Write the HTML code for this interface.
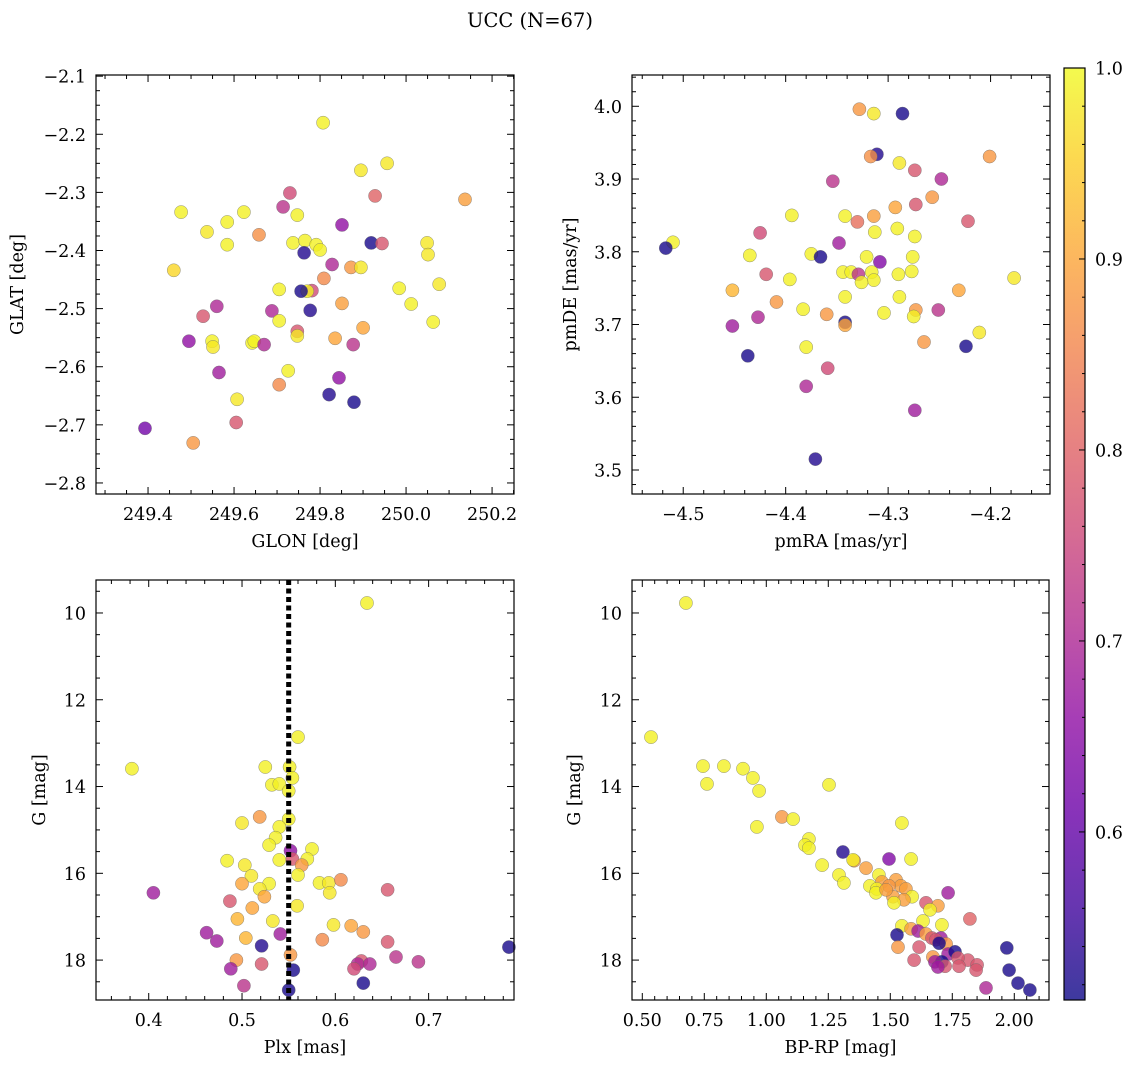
<!DOCTYPE html>
<html><head><meta charset="utf-8"><title>UCC (N=67)</title>
<style>
html,body{margin:0;padding:0;background:#fff;}
svg{display:block;font-family:"DejaVu Serif","Liberation Serif",serif;}
</style></head>
<body>
<svg id="fig" width="1136" height="1068" viewBox="0 0 1136 1068" xmlns="http://www.w3.org/2000/svg">
<defs>
<linearGradient id="plasma" x1="0" y1="1" x2="0" y2="0">
<stop offset="0" stop-color="#0d0887"/><stop offset="0.1" stop-color="#41049d"/><stop offset="0.2" stop-color="#6a00a8"/><stop offset="0.3" stop-color="#8f0da4"/><stop offset="0.4" stop-color="#b12a90"/><stop offset="0.5" stop-color="#cc4778"/><stop offset="0.6" stop-color="#e16462"/><stop offset="0.7" stop-color="#f2844b"/><stop offset="0.8" stop-color="#fca636"/><stop offset="0.9" stop-color="#fcce25"/><stop offset="1" stop-color="#f0f921"/>
</linearGradient>
</defs>
<text x="530" y="27" font-size="19.5" text-anchor="middle">UCC (N=67)</text>
</svg>
<script>
// ---- Panel 1: GLON vs GLAT ----
const glon=[249.807,249.956,249.895,250.137,249.928,249.730,249.714,249.477,249.623,249.584,249.747,249.537,249.658,249.851,249.919,249.944,250.049,250.051,249.584,249.737,249.765,249.791,249.800,249.763,249.828,249.460,249.809,249.872,249.895,249.781,249.770,249.756,249.705,249.984,250.077,250.012,249.851,249.777,249.560,249.528,249.688,249.705,250.063,249.747,249.747,249.900,249.495,249.549,249.551,249.642,249.647,249.670,249.835,249.877,249.565,249.726,249.705,249.844,249.821,249.879,249.607,249.605,249.393,249.505];
const glat=[-2.180,-2.250,-2.262,-2.312,-2.306,-2.301,-2.325,-2.334,-2.334,-2.351,-2.339,-2.368,-2.373,-2.356,-2.387,-2.388,-2.387,-2.407,-2.390,-2.387,-2.383,-2.390,-2.399,-2.404,-2.424,-2.434,-2.448,-2.429,-2.429,-2.469,-2.470,-2.470,-2.467,-2.465,-2.458,-2.492,-2.491,-2.503,-2.496,-2.513,-2.504,-2.521,-2.523,-2.539,-2.547,-2.533,-2.556,-2.556,-2.566,-2.559,-2.556,-2.562,-2.551,-2.562,-2.610,-2.607,-2.631,-2.619,-2.648,-2.661,-2.656,-2.696,-2.706,-2.731];
const prob1=[0.99,0.98,0.98,0.89,0.80,0.76,0.72,0.99,0.99,0.99,0.99,0.98,0.87,0.66,0.52,0.78,0.98,0.98,0.99,0.99,0.99,0.99,0.99,0.53,0.70,0.96,0.86,0.88,0.98,0.76,0.99,0.52,0.99,0.99,0.98,0.99,0.89,0.53,0.70,0.78,0.70,0.99,0.99,0.78,0.98,0.90,0.66,0.99,0.98,0.99,0.99,0.70,0.90,0.72,0.68,0.99,0.86,0.66,0.53,0.52,0.98,0.78,0.62,0.88];
// ---- Panel 2: pmRA vs pmDE ----
const pmra=[-4.328,-4.314,-4.286,-4.311,-4.317,-4.289,-4.274,-4.248,-4.354,-4.201,-4.257,-4.273,-4.293,-4.342,-4.394,-4.314,-4.330,-4.222,-4.291,-4.313,-4.425,-4.274,-4.348,-4.510,-4.517,-4.435,-4.375,-4.366,-4.276,-4.321,-4.308,-4.419,-4.344,-4.336,-4.329,-4.316,-4.290,-4.277,-4.314,-4.177,-4.396,-4.326,-4.452,-4.231,-4.342,-4.289,-4.409,-4.251,-4.383,-4.273,-4.427,-4.304,-4.360,-4.275,-4.342,-4.342,-4.211,-4.452,-4.265,-4.380,-4.437,-4.224,-4.359,-4.380,-4.274,-4.371];
const pmde=[3.996,3.990,3.990,3.934,3.931,3.922,3.912,3.900,3.897,3.931,3.875,3.865,3.861,3.849,3.850,3.849,3.841,3.842,3.832,3.827,3.826,3.821,3.812,3.813,3.805,3.795,3.797,3.793,3.793,3.793,3.786,3.769,3.772,3.772,3.769,3.772,3.769,3.773,3.761,3.764,3.762,3.758,3.747,3.747,3.738,3.738,3.731,3.720,3.721,3.720,3.710,3.716,3.714,3.711,3.703,3.699,3.689,3.698,3.676,3.669,3.657,3.670,3.640,3.615,3.582,3.515];
const prob2=[0.88,0.98,0.52,0.53,0.87,0.98,0.78,0.70,0.72,0.88,0.88,0.78,0.90,0.99,0.99,0.89,0.82,0.78,0.99,0.99,0.76,0.99,0.68,0.99,0.52,0.99,0.99,0.52,0.99,0.99,0.64,0.78,0.99,0.99,0.72,0.99,0.99,0.99,0.99,0.98,0.99,0.99,0.92,0.90,0.99,0.99,0.88,0.72,0.99,0.88,0.70,0.99,0.88,0.99,0.52,0.90,0.98,0.68,0.88,0.99,0.52,0.52,0.76,0.70,0.68,0.53];
// ---- Panel 3: Plx vs G ----
const plx=[0.634,0.560,0.382,0.525,0.551,0.554,0.532,0.540,0.550,0.550,0.519,0.500,0.540,0.536,0.529,0.575,0.552,0.554,0.570,0.540,0.484,0.503,0.564,0.560,0.510,0.583,0.593,0.606,0.500,0.529,0.519,0.405,0.656,0.594,0.524,0.487,0.559,0.511,0.495,0.533,0.598,0.617,0.630,0.462,0.541,0.504,0.473,0.586,0.656,0.521,0.786,0.665,0.494,0.552,0.689,0.628,0.624,0.637,0.521,0.620,0.488,0.555,0.630,0.502,0.550];
const gmag3=[9.77,12.86,13.59,13.55,13.55,13.80,13.96,13.94,14.10,14.75,14.70,14.84,14.93,15.18,15.35,15.44,15.48,15.67,15.67,15.69,15.71,15.81,15.81,16.04,16.06,16.22,16.22,16.15,16.24,16.24,16.36,16.45,16.38,16.45,16.54,16.64,16.75,16.80,17.05,17.10,17.19,17.21,17.35,17.37,17.40,17.49,17.56,17.53,17.58,17.67,17.70,17.93,18.00,17.88,18.04,18.02,18.09,18.09,18.09,18.20,18.20,18.23,18.53,18.59,18.69];
const prob3=[0.99,0.99,0.99,0.99,0.99,0.99,0.99,0.99,0.99,0.99,0.88,0.98,0.99,0.99,0.99,0.99,0.66,0.78,0.99,0.99,0.99,0.98,0.88,0.99,0.98,0.99,0.98,0.86,0.90,0.99,0.98,0.68,0.78,0.98,0.90,0.78,0.98,0.90,0.92,0.98,0.98,0.90,0.88,0.68,0.68,0.92,0.68,0.86,0.78,0.53,0.52,0.72,0.88,0.88,0.72,0.78,0.70,0.70,0.78,0.76,0.68,0.52,0.52,0.72,0.52];
const cut3=[0.55];
// ---- Panel 4: BP-RP vs G ----
const bprp=[0.676,0.535,0.745,0.829,0.906,0.946,0.761,0.971,1.253,1.063,1.108,0.962,1.547,1.172,1.156,1.172,1.309,1.354,1.350,1.225,1.495,1.584,1.402,1.454,1.293,1.523,1.466,1.543,1.495,1.563,1.313,1.418,1.446,1.442,1.511,1.483,1.733,1.588,1.555,1.515,1.644,1.692,1.660,1.821,1.632,1.708,1.547,1.584,1.527,1.612,1.644,1.668,1.704,1.684,1.725,1.531,1.616,1.697,1.733,1.761,1.672,1.708,1.813,1.596,1.680,1.773,1.777,1.721,1.850,1.692,1.970,1.979,1.846,2.015,1.886,2.063];
const gmag4=[9.77,12.86,13.53,13.53,13.59,13.80,13.94,14.10,13.96,14.70,14.75,14.93,14.84,15.21,15.35,15.42,15.51,15.71,15.69,15.81,15.67,15.67,15.88,16.04,16.04,16.15,16.20,16.29,16.29,16.36,16.22,16.29,16.36,16.45,16.54,16.38,16.45,16.54,16.61,16.68,16.68,16.75,16.84,17.05,17.10,17.19,17.21,17.28,17.42,17.33,17.40,17.49,17.49,17.53,17.63,17.70,17.70,17.61,17.86,17.81,17.93,18.04,18.00,18.00,18.04,17.95,18.14,18.14,18.11,18.16,17.72,18.23,18.23,18.53,18.64,18.69];
const prob4=[0.99,0.99,0.99,0.99,0.99,0.99,0.99,0.99,0.99,0.88,0.99,0.99,0.99,0.99,0.99,0.99,0.53,0.88,0.99,0.99,0.64,0.99,0.89,0.99,0.99,0.89,0.89,0.89,0.88,0.89,0.99,0.99,0.99,0.99,0.89,0.89,0.68,0.99,0.89,0.99,0.78,0.89,0.99,0.80,0.99,0.99,0.99,0.89,0.52,0.68,0.89,0.78,0.68,0.78,0.88,0.88,0.78,0.52,0.68,0.52,0.88,0.52,0.78,0.78,0.68,0.78,0.78,0.78,0.78,0.68,0.52,0.52,0.78,0.52,0.70,0.52];
// colorbar ticks
const cbTicks=[0.6,0.7,0.8,0.9,1.0];

const NS="http://www.w3.org/2000/svg";
const svg=document.getElementById('fig');
const VMIN=0.512, VMAX=1.0;
const stops=["#0d0887","#41049d","#6a00a8","#8f0da4","#b12a90","#cc4778","#e16462","#f2844b","#fca636","#fcce25","#f0f921"];
function hex(h){return [parseInt(h.substr(1,2),16),parseInt(h.substr(3,2),16),parseInt(h.substr(5,2),16)];}
function plasma(v){
  let t=(v-VMIN)/(VMAX-VMIN); t=Math.max(0,Math.min(1,t));
  const f=t*10, i=Math.min(9,Math.floor(f)), r=f-i;
  const a=hex(stops[i]), b=hex(stops[i+1]);
  return 'rgb('+a.map((c,k)=>Math.round(c+(b[k]-c)*r)).join(',')+')';
}
function mk(tag,attrs,parent){const e=document.createElementNS(NS,tag);for(const k in attrs)e.setAttribute(k,attrs[k]);(parent||svg).appendChild(e);return e;}
const FS=17.5;

function panel(o){
  const g=mk('g',{});
  
  
  const X=v=>o.bx0+(v-o.xlim[0])/(o.xlim[1]-o.xlim[0])*(o.bx1-o.bx0);
  const Y=v=>o.inv? o.by0+(v-o.ylim[0])/(o.ylim[1]-o.ylim[0])*(o.by1-o.by0)
                 : o.by1-(v-o.ylim[0])/(o.ylim[1]-o.ylim[0])*(o.by1-o.by0);
  const pg=mk('g',{},g);
  
  
  for(let i=0;i<o.xs.length;i++){
    const c=mk('circle',{cx:X(o.xs[i]).toFixed(1),cy:Y(o.ys[i]).toFixed(1),r:6.6,fill:plasma(o.ps[i]),'fill-opacity':0.8,stroke:'#666','stroke-width':0.5,'stroke-opacity':0.7},pg);
    
    
  }
  if(o.extra) o.extra(g,X,Y);
  const fr=mk('rect',{x:o.bx0,y:o.by0,width:o.bx1-o.bx0,height:o.by1-o.by0,fill:'none',stroke:'#000','stroke-width':1.2},g);
  
  
  const tg=mk('g',{stroke:'#000','stroke-width':1},g);
  const eps=1e-9;
  for(let k=Math.ceil((o.xlim[0])/o.xminor-eps);k*o.xminor<=o.xlim[1]+eps;k++){
    const v=k*o.xminor, px=X(v);
    const isMaj=Math.abs(v/o.xmajor-Math.round(v/o.xmajor))<1e-6;
    const L=isMaj?7:4;
    mk('line',{x1:px,y1:o.by1,x2:px,y2:o.by1-L},tg);
    mk('line',{x1:px,y1:o.by0,x2:px,y2:o.by0+L},tg);
  }
  for(const v of o.xlabels){
    const t=mk('text',{x:X(v),y:o.by1+26,'font-size':FS,'text-anchor':'middle'},g);
    t.textContent=o.xfmt(v);
    
    
  }
  for(let k=Math.ceil((Math.min(...o.ylim))/o.yminor-eps);k*o.yminor<=Math.max(...o.ylim)+eps;k++){
    const v=k*o.yminor, py=Y(v);
    const isMaj=Math.abs(v/o.ymajor-Math.round(v/o.ymajor))<1e-6;
    const L=isMaj?7:4;
    mk('line',{x1:o.bx0,y1:py,x2:o.bx0+L,y2:py},tg);
    mk('line',{x1:o.bx1,y1:py,x2:o.bx1-L,y2:py},tg);
  }
  for(const v of o.ylabels){
    const t=mk('text',{x:o.bx0-10,y:Y(v)+6.5,'font-size':FS,'text-anchor':'end'},g);
    t.textContent=o.yfmt(v);
    
    
  }
  const xl=mk('text',{x:(o.bx0+o.bx1)/2,y:o.by1+53,'font-size':FS,'text-anchor':'middle'},g);
  xl.textContent=o.xlabel;
  
  
  const ycx=o.ylabx, ycy=(o.by0+o.by1)/2;
  const yl=mk('text',{x:ycx,y:ycy,'font-size':FS,'text-anchor':'middle',transform:'rotate(-90 '+ycx+' '+ycy+')'},g);
  yl.textContent=o.ylabel;
  
  
}
const neg=v=>v<0?'\u2212'+Math.abs(v).toFixed(1):v.toFixed(1);

panel({name:'glon-glat-panel',bx0:96,bx1:514,by0:75,by1:494,xlim:[249.279,250.251],ylim:[-2.819,-2.098],
  xmajor:0.2,xminor:0.05,ymajor:0.1,yminor:0.025,
  xlabels:[249.4,249.6,249.8,250.0,250.2],ylabels:[-2.8,-2.7,-2.6,-2.5,-2.4,-2.3,-2.2,-2.1],
  xfmt:v=>v.toFixed(1),yfmt:neg,xs:glon,ys:glat,ps:prob1,xlabel:'GLON [deg]',ylabel:'GLAT [deg]',ylabx:23});

panel({name:'pm-panel',bx0:632,bx1:1050,by0:75,by1:494,xlim:[-4.550,-4.142],ylim:[3.467,4.043],
  xmajor:0.1,xminor:0.02,ymajor:0.1,yminor:0.02,
  xlabels:[-4.5,-4.4,-4.3,-4.2],ylabels:[3.5,3.6,3.7,3.8,3.9,4.0],
  xfmt:neg,yfmt:v=>v.toFixed(1),xs:pmra,ys:pmde,ps:prob2,xlabel:'pmRA [mas/yr]',ylabel:'pmDE [mas/yr]',ylabx:576});

panel({name:'plx-g-panel',bx0:96,bx1:514,by0:580,by1:1000,xlim:[0.3435,0.7915],ylim:[9.24,18.92],inv:true,
  xmajor:0.1,xminor:0.02,ymajor:2,yminor:0.5,
  xlabels:[0.4,0.5,0.6,0.7],ylabels:[10,12,14,16,18],
  xfmt:v=>v.toFixed(1),yfmt:v=>String(v),xs:plx,ys:gmag3,ps:prob3,xlabel:'Plx [mas]',ylabel:'G [mag]',ylabx:45,
  extra:(g,X,Y)=>{
    for(const c of cut3){
      const l=mk('line',{x1:X(c),y1:580,x2:X(c),y2:1000,stroke:'#000','stroke-width':5,'stroke-dasharray':'5,3.5'},g);
      
      
    }
  }});

panel({name:'cmd-panel',bx0:632,bx1:1049,by0:580,by1:1000,xlim:[0.4585,2.140],ylim:[9.24,18.92],inv:true,
  xmajor:0.25,xminor:0.05,ymajor:2,yminor:0.5,
  xlabels:[0.5,0.75,1.0,1.25,1.5,1.75,2.0],ylabels:[10,12,14,16,18],
  xfmt:v=>v.toFixed(2),yfmt:v=>String(v),xs:bprp,ys:gmag4,ps:prob4,xlabel:'BP-RP [mag]',ylabel:'G [mag]',ylabx:580});

(function(){
  const x0=1064,x1=1085,y0=68,y1=1000;
  const g=mk('g',{});
  
  
  mk('rect',{x:x0,y:y0,width:x1-x0,height:y1-y0,fill:'url(#plasma)','fill-opacity':0.8},g);
  mk('rect',{x:x0,y:y0,width:x1-x0,height:y1-y0,fill:'none',stroke:'#000','stroke-width':1.2},g);
  const Y=v=>y1-(v-VMIN)/(VMAX-VMIN)*(y1-y0);
  for(let k=26;k<=50;k++){
    const v=k*0.02; if(v<VMIN-1e-9||v>VMAX+1e-9) continue;
    const maj=(k%5===0);
    mk('line',{x1:x1,y1:Y(v),x2:x1-(maj?6:3),y2:Y(v),stroke:'#000','stroke-width':1},g);
  }
  for(const v of cbTicks){
    const t=mk('text',{x:x1+10,y:Y(v)+6.5,'font-size':FS},g);
    t.textContent=v.toFixed(1);
    
    
  }
})();
</script>
</body></html>
